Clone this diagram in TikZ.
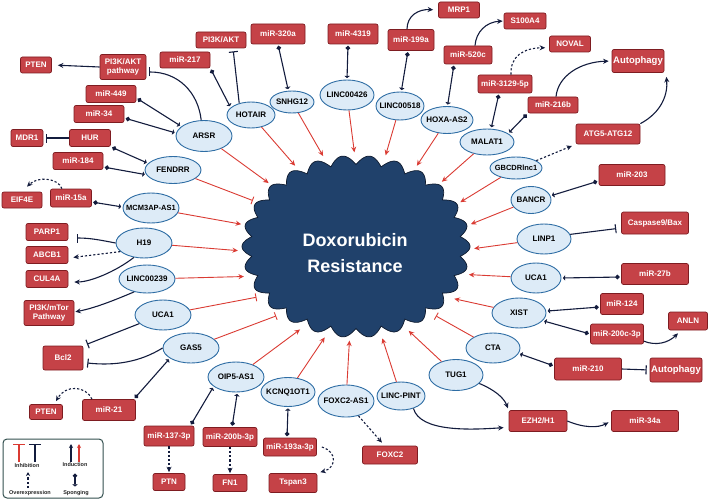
\documentclass[tikz,border=0pt]{standalone}
\usepackage{fontspec}
\setmainfont{Liberation Sans}
\usetikzlibrary{arrows.meta,shapes.geometric,calc}
\definecolor{boxred}{HTML}{C54247}
\definecolor{boxedge}{HTML}{7E1C21}
\definecolor{lncfill}{HTML}{DDEBF7}
\definecolor{lncedge}{HTML}{2E6DA4}
\definecolor{doxfill}{HTML}{20416B}
\definecolor{doxedge}{HTML}{0E1A2E}
\definecolor{redline}{HTML}{DA3B33}
\definecolor{navy}{HTML}{131C3D}
\definecolor{legedge}{HTML}{33504F}
\begin{document}
\begin{tikzpicture}[x=1pt,y=-1pt,
  rbox/.style={draw=boxedge, fill=boxred, rounded corners=2pt, line width=0.7pt, text=white,
    font=\bfseries\fontsize{8}{9.5}\selectfont, inner sep=0pt, align=center},
  bx/.style 2 args={rbox, minimum width=#1pt, minimum height=#2pt},
  lnc/.style 2 args={ellipse, draw=lncedge, fill=lncfill, line width=0.9pt, inner sep=0pt,
    minimum width=#1pt, minimum height=#2pt, font=\bfseries\fontsize{8}{9.5}\selectfont, text=black},
  redarr/.style={draw=redline, line width=0.9pt, -{Stealth[length=5.5pt,width=5pt]}},
  redtee/.style={draw=redline, line width=0.9pt, -{Bar[width=8pt]}},
  darr/.style={draw=navy, line width=1.1pt, -{Stealth[length=5.5pt,width=5pt]}},
  dtee/.style={draw=navy, line width=1.1pt, -{Bar[width=9pt]}},
  ddash/.style={darr, dash pattern=on 2.2pt off 2pt},
  spg/.style={draw=navy, line width=1.1pt, {Circle[length=4.5pt]}-{Triangle[width=5.5pt,length=2.2pt]},
    shorten <=1.5pt, shorten >=1.5pt},
  lgtext/.style={font=\bfseries\fontsize{5.5}{6}\selectfont, text=black!85, inner sep=0pt}
]
\useasboundingbox (0,0) rectangle (708,500);

% central shape
\draw[fill=doxfill, draw=doxedge, line width=0.7pt]
  plot[domain=0:360, samples=1561, variable=\t]
  ({356+(105+9*abs(cos(13*\t)))*cos(\t)}, {246.5+(82+9*abs(cos(13*\t)))*sin(\t)}) -- cycle;
\node[ellipse, minimum width=236pt, minimum height=188pt, inner sep=0pt] (dox) at (356,246.5) {};
\node[text=white, font=\bfseries\fontsize{18}{26}\selectfont, align=center] (doxtext) at (355,253.5) {Doxorubicin\\Resistance};

% lncRNA ellipses
\node[lnc={56}{31}] (arsr) at (204,136) {\makebox[0pt]{ARSR}};
\node[lnc={48}{26}] (hotair) at (251,115) {\makebox[0pt]{HOTAIR}};
\node[lnc={44}{22}] (snhg12) at (292,102) {\makebox[0pt]{SNHG12}};
\node[lnc={54}{30}] (lnc426) at (347,95) {\makebox[0pt]{LINC00426}};
\node[lnc={48}{28}] (lnc518) at (400,106) {\makebox[0pt]{LINC00518}};
\node[lnc={52}{27}] (hoxa) at (447,120) {\makebox[0pt]{HOXA-AS2}};
\node[lnc={54}{26}] (malat1) at (487,142) {\makebox[0pt]{MALAT1}};
\node[lnc={52}{22}, font=\bfseries\fontsize{7.5}{9}\selectfont] (gbcdr) at (516,168) {\makebox[0pt]{GBCDRlnc1}};
\node[lnc={40}{27}] (bancr) at (531,200) {\makebox[0pt]{BANCR}};
\node[lnc={54}{30}] (linp1) at (544,239) {\makebox[0pt]{LINP1}};
\node[lnc={50}{30}] (uca1r) at (536,278) {\makebox[0pt]{UCA1}};
\node[lnc={54}{30}] (xist) at (519,313) {\makebox[0pt]{XIST}};
\node[lnc={54}{30}] (cta) at (493,348) {\makebox[0pt]{CTA}};
\node[lnc={54}{31}] (tug1) at (456,375) {\makebox[0pt]{TUG1}};
\node[lnc={48}{28}] (pint) at (401,396) {\makebox[0pt]{LINC-PINT}};
\node[lnc={56}{32}] (foxas) at (346,401) {\makebox[0pt]{FOXC2-AS1}};
\node[lnc={54}{29}] (kcnq) at (288,392) {\makebox[0pt]{KCNQ1OT1}};
\node[lnc={56}{30}] (oip5) at (236,377) {\makebox[0pt]{OIP5-AS1}};
\node[lnc={56}{30}] (gas5) at (191,348) {\makebox[0pt]{GAS5}};
\node[lnc={56}{30}] (uca1l) at (163,315) {\makebox[0pt]{UCA1}};
\node[lnc={56}{28}] (lnc239) at (147,279) {\makebox[0pt]{LINC00239}};
\node[lnc={56}{30}] (h19) at (144,243) {\makebox[0pt]{H19}};
\node[lnc={56}{30}, font=\bfseries\fontsize{7.5}{9}\selectfont] (mcm) at (151,208) {\makebox[0pt]{MCM3AP-AS1}};
\node[lnc={56}{27}] (fendrr) at (173,170) {\makebox[0pt]{FENDRR}};

% red boxes
\node[bx={31}{16}] (pten1) at (36,65) {PTEN};
\node[bx={46}{25}] (pi3kp) at (123,67) {PI3K/AKT\\pathway};
\node[bx={50}{16}] (m217) at (185,60) {miR-217};
\node[bx={50}{16}] (pi3kt) at (221,40) {PI3K/AKT};
\node[bx={54}{20}] (m320a) at (278,34) {miR-320a};
\node[bx={50}{20}] (m4319) at (353,34) {miR-4319};
\node[bx={46}{21}] (m199a) at (411,40) {miR-199a};
\node[bx={41}{16}] (mrp1) at (459,10) {MRP1};
\node[bx={48}{18}] (m520c) at (468,55) {miR-520c};
\node[bx={42}{16}] (s100a4) at (525,21) {S100A4};
\node[bx={41}{16}] (noval) at (570,44) {NOVAL};
\node[bx={52}{23}, font=\bfseries\fontsize{9.5}{11}\selectfont] (auto1) at (638,61) {Autophagy};
\node[bx={54}{18}] (m3129) at (505,84) {miR-3129-5p};
\node[bx={50}{16}] (m216b) at (553,105) {miR-216b};
\node[bx={64}{20}] (atg) at (608,134) {ATG5-ATG12};
\node[bx={66}{21}] (m203) at (632,175) {miR-203};
\node[bx={67}{22}] (casp) at (655,223) {Caspase9/Bax};
\node[bx={67}{21}] (m27b) at (655,274) {miR-27b};
\node[bx={43}{21}] (m124) at (622,304) {miR-124};
\node[bx={39}{18}] (anln) at (688,321) {ANLN};
\node[bx={53}{20}] (m200c) at (617,334) {miR-200c-3p};
\node[bx={67}{22}] (m210) at (588,369) {miR-210};
\node[bx={52}{24}, font=\bfseries\fontsize{9.5}{11}\selectfont] (auto2) at (676,370) {Autophagy};
\node[bx={58}{21}] (ezh2) at (538,421) {EZH2/H1};
\node[bx={67}{21}] (m34a) at (645,421) {miR-34a};
\node[bx={55}{18}] (foxc2) at (390,455) {FOXC2};
\node[bx={53}{18}] (m193) at (290,447) {miR-193a-3p};
\node[bx={48}{19}] (tspan3) at (293,483) {Tspan3};
\node[bx={50}{20}] (m137) at (169,436) {miR-137-3p};
\node[bx={32}{17}] (ptn) at (169,482) {PTN};
\node[bx={54}{19}] (m200b) at (230,437) {miR-200b-3p};
\node[bx={34}{17}] (fn1) at (230,483) {FN1};
\node[bx={53}{21}] (m21) at (109,410) {miR-21};
\node[bx={33}{15}] (pten2) at (46,412) {PTEN};
\node[bx={40}{24}] (bcl2) at (63,358) {Bcl2};
\node[bx={50}{25}] (pi3km) at (49,313) {PI3K/mTor\\Pathway};
\node[bx={42}{17}] (cul4a) at (47,279) {CUL4A};
\node[bx={42}{17}] (abcb1) at (47,255) {ABCB1};
\node[bx={42}{17}] (parp1) at (47,232) {PARP1};
\node[bx={40}{16}] (eif4e) at (22,200) {EIF4E};
\node[bx={41}{18}] (m15a) at (71,198) {miR-15a};
\node[bx={50}{17}] (m184) at (78,161) {miR-184};
\node[bx={32}{17}] (mdr1) at (27,138) {MDR1};
\node[bx={41}{17}] (hur) at (90,138) {HUR};
\node[bx={50}{17}] (m34) at (99,114) {miR-34};
\node[bx={50}{17}] (m449) at (111,94) {miR-449};

% red connectors to the centre
\foreach \n/\a in {arsr/144, hotair/127, snhg12/110, lnc426/91, lnc518/72, hoxa/53, malat1/37,
  gbcdr/23, bancr/11, linp1/-1.5, uca1r/-14, xist/-28, tug1/-58, pint/-74.6, foxas/-94.3,
  kcnq/-109, oip5/-124.8, lnc239/-165, h19/-178, mcm/169}
  \draw[redarr] (\n) -- (dox.\a);
\foreach \n/\a in {fendrr/156, uca1l/-153, gas5/-139, cta/-41.7}
  \draw[redtee] (\n) -- (dox.\a);

% sponging
\draw[spg] (m217.south east) -- (hotair.160);
\draw[spg] ($(m449.east)+(0,4)$) -- (arsr.157);
\draw[spg] ($(m34.east)+(0,4)$) -- (arsr.174);
\draw[spg] (hur.south east) -- (fendrr.165);
\draw[spg] ($(m184.east)+(0,6)$) -- (fendrr.190);
\draw[spg] ($(m15a.east)+(0,4)$) -- (mcm.178);
\draw[spg] (m320a.south) -- (snhg12.108);
\draw[spg] ($(m4319.south)+(-5,0)$) -- (lnc426.north);
\draw[spg] ($(m199a.south)+(-3,0)$) -- (lnc518.85);
\draw[spg] ($(m520c.south)+(-14,0)$) -- (hoxa.88);
\draw[spg] ($(m3129.south)+(-6,0)$) -- (malat1.73);
\draw[spg] (m216b.south west) -- (malat1.22);
\draw[spg] ($(m203.west)+(0,6)$) -- (bancr.12);
\draw[spg] ($(m27b.west)+(0,3)$) -- (uca1r.east);
\draw[spg] ($(m124.west)+(0,3)$) -- (xist.4);
\draw[spg] (m200c.west) -- (xist.-18);
\draw[spg] ($(m210.west)+(0,-3)$) -- (cta.-12);
\draw[spg] ($(m21.north east)+(-2,0)$) -- (gas5.206);
\draw[spg] ($(m137.north east)+(-4,0)$) -- (oip5.203);
\draw[spg] ($(m200b.north)+(2,0)$) -- (oip5.-85);
\draw[spg] ($(m193.north)+(-3,0)$) -- (kcnq.south);

% dark inhibition / induction / overexpression
\draw[dtee, shorten >=3pt] (hotair.135) -- ($(pi3kt.south)+(12,0)$);
\draw[dtee, shorten >=3pt] (arsr.100) .. controls (198,92) and (178,72) .. ($(pi3kp.east)+(0,5)$);
\draw[darr, shorten >=6pt] (pi3kp.west) -- (pten1.east);
\draw[dtee, shorten >=3pt] (hur.west) -- (mdr1.east);
\draw[dtee] (h19.west) .. controls (100,240) and (90,238) .. ($(parp1.east)+(9,6)$);
\draw[ddash, shorten >=5pt] (h19.200) -- ($(abcb1.east)+(0,3)$);
\draw[darr, shorten >=6pt] (h19.235) .. controls (115,272) and (90,282) .. ($(cul4a.east)+(0,3)$);
\draw[darr, shorten >=1pt] (lnc239.225) .. controls (115,300) and (95,308) .. ($(pi3km.east)+(0,-1)$);
\draw[dtee, shorten >=4pt] (uca1l.200) -- (bcl2.north east);
\draw[dtee] (gas5.west) .. controls (140,362) and (115,366) .. ($(bcl2.east)+(4,5)$);
\draw[dtee, shorten >=5pt] (linp1.10) -- ($(casp.west)+(0,5)$);
\draw[ddash] ($(m15a.north)+(-9,0)$) .. controls (58,178) and (38,176) .. ($(eif4e.north)+(5,-5)$);
\draw[ddash] ($(m21.north)+(-17,0)$) .. controls (86,386) and (66,384) .. ($(pten2.north)+(10,-3)$);
\draw[ddash, shorten >=1pt] (m137.south) -- (ptn.north);
\draw[ddash, shorten >=1pt] (m200b.south) -- (fn1.north);
\draw[ddash] ($(m193.east)+(5,0)$) .. controls (338,452) and (336,468) .. ($(tspan3.north east)+(3,-1)$);
\draw[ddash, shorten >=4pt] (foxas.-50) -- (foxc2.120);
\draw[darr, shorten >=5pt] ($(m199a.north)+(-4,0)$) .. controls (407,16) and (418,9) .. (mrp1.west);
\draw[darr, shorten >=1pt] ($(m520c.north)+(7,0)$) .. controls (476,32) and (486,22) .. (s100a4.west);
\draw[ddash, shorten >=4pt] ($(m3129.north)+(6,0)$) .. controls (510,56) and (524,48) .. (noval.190);
\draw[darr, shorten >=3pt] ($(m216b.north)+(3,0)$) .. controls (558,76) and (580,62) .. (auto1.west);
\draw[darr] (atg.north east) .. controls (662,112) and (668,94) .. ($(auto1.south east)+(2,4)$);
\draw[ddash, shorten >=4pt] (gbcdr.20) -- (atg.south west);
\draw[darr] (m200c.-15) .. controls (656,346) and (668,343) .. ($(anln.south)+(-10,3)$);
\draw[dtee, shorten >=3pt] (m210.east) -- (auto2.west);
\draw[darr, shorten >=2pt] (tug1.-20) .. controls (495,390) and (504,398) .. (ezh2.north west);
\draw[darr, shorten >=5pt] (pint.-45) .. controls (420,432) and (470,430) .. (ezh2.192);
\draw[darr, shorten >=3pt] (ezh2.east) .. controls (584,428) and (598,428) .. (m34a.west);

% legend
\node[draw=legedge, line width=1pt, rounded corners=4pt, minimum width=100pt, minimum height=59pt,
  inner sep=0pt, fill=white] (legend) at (53,468.5) {};
\coordinate (li1) at (19,462); \coordinate (li2) at (19,444);
\coordinate (lj1) at (35,462); \coordinate (lj2) at (35,444);
\coordinate (lk1) at (71,462); \coordinate (lk2) at (71,444);
\coordinate (ll1) at (79,462); \coordinate (ll2) at (79,444);
\coordinate (lo1) at (28,488); \coordinate (lo2) at (28,472);
\coordinate (ls1) at (75,472); \coordinate (ls2) at (75,488);
\draw[redtee, -{Bar[width=12pt]}, line width=1.1pt] (li1) -- (li2);
\draw[dtee, -{Bar[width=12pt]}] (lj1) -- (lj2);
\draw[darr, -{Stealth[length=4pt,width=4pt]}] (lk1) -- (lk2);
\draw[redarr, -{Stealth[length=4pt,width=4pt]}, line width=1.1pt] (ll1) -- (ll2);
\draw[ddash, -{Stealth[length=4pt,width=4pt]}] (lo1) -- (lo2);
\draw[spg] (ls1) -- (ls2);
\node[lgtext] (lgt1) at (27,466) {Inhibition};
\node[lgtext] (lgt2) at (75,465) {Induction};
\node[lgtext] (lgt3) at (30,493) {Overexpression};
\node[lgtext] (lgt4) at (76,493) {Sponging};
\end{tikzpicture}
\end{document}
